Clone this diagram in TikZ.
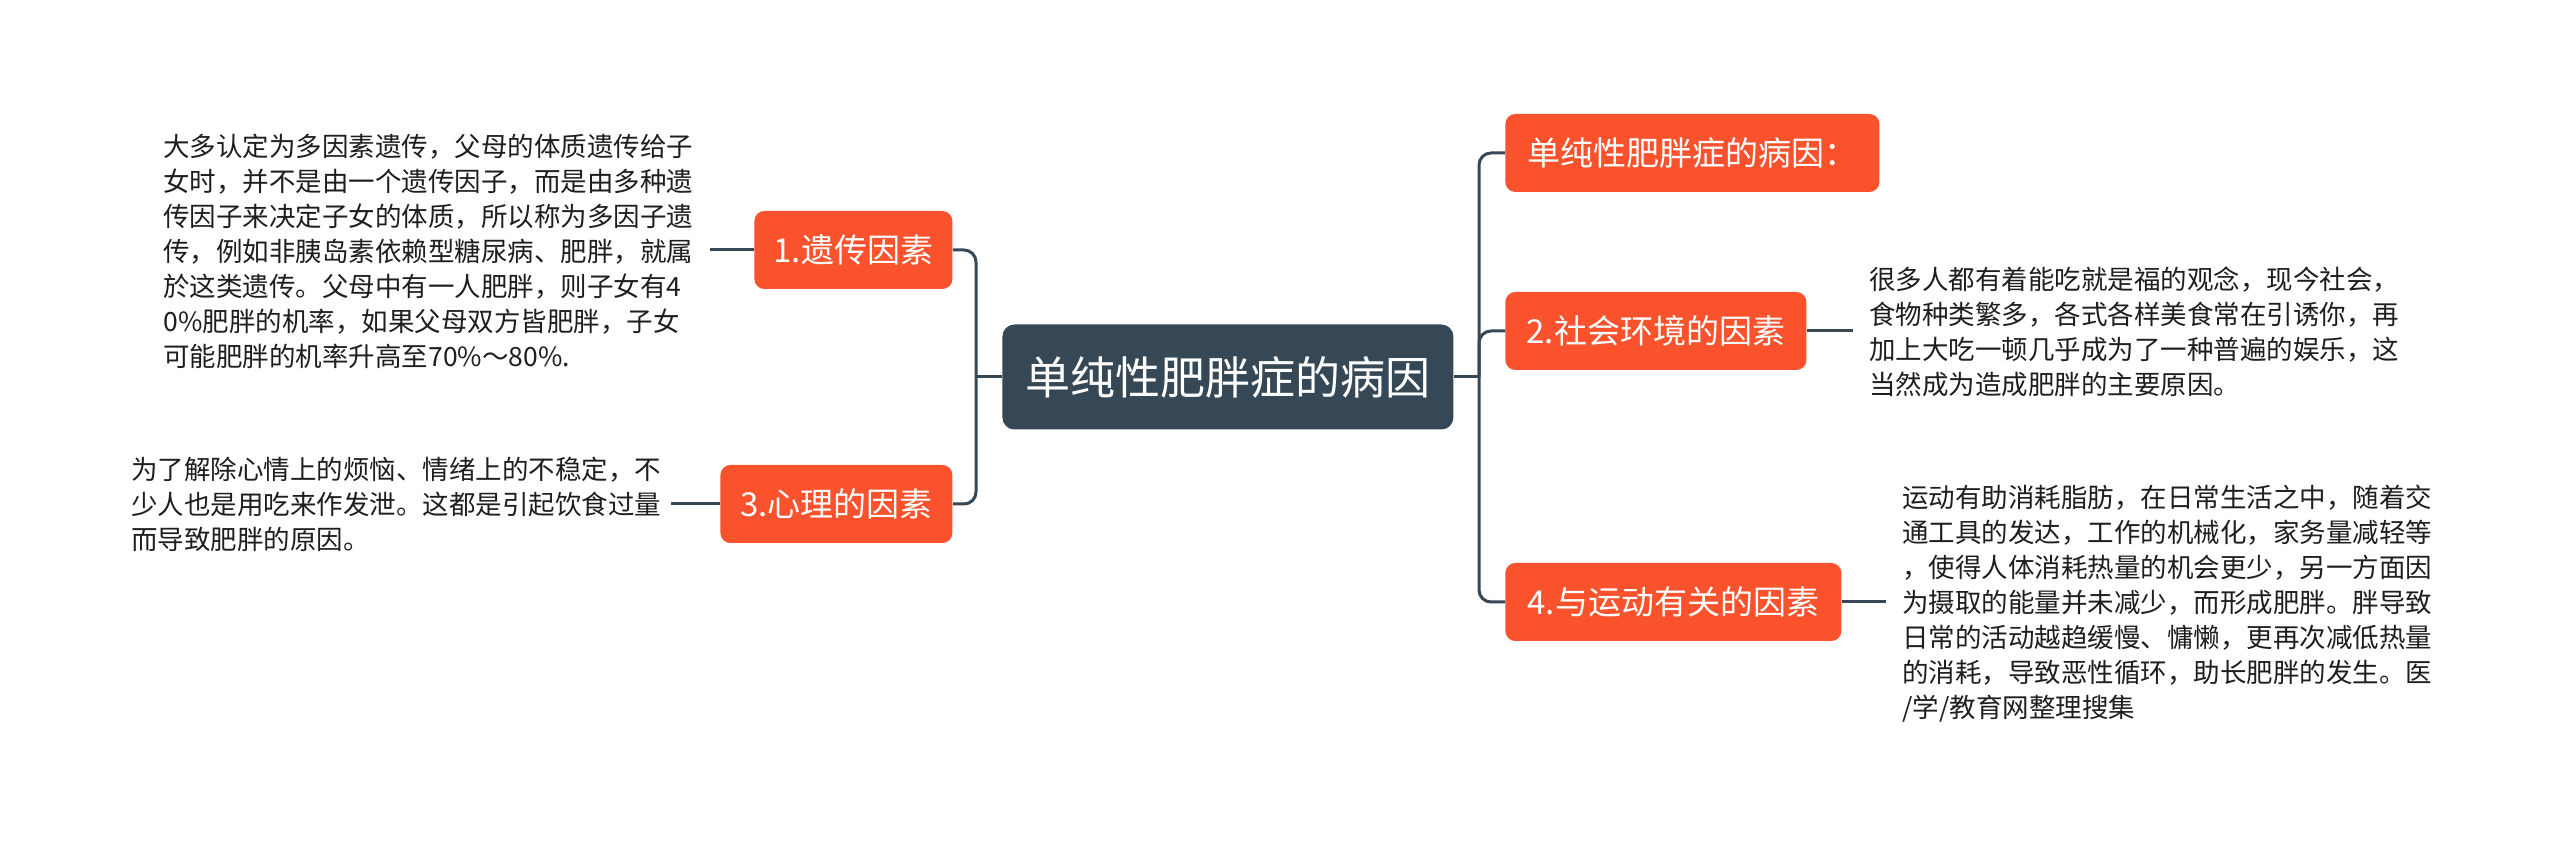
\documentclass[tikz,border=0pt]{standalone}
\usepackage{fontspec}
\setmainfont{Noto Sans CJK SC}
\definecolor{orangebox}{RGB}{250,82,44}
\definecolor{darkbox}{RGB}{54,72,86}
\definecolor{txt}{RGB}{30,30,30}
\tikzset{
  rootbox/.style={fill=darkbox, rounded corners=6pt, text=white, anchor=west, minimum height=52.5pt, inner sep=0pt, font=\fontsize{22.5}{26}\selectfont},
  topicbox/.style={fill=orangebox, rounded corners=5pt, text=white, anchor=west, minimum height=39pt, inner sep=0pt, font=\fontsize{16.5}{20}\selectfont},
  leaftext/.style={anchor=north west, align=left, inner sep=0pt, text=txt, font=\fontsize{13.25}{17.5}\selectfont},
  conn/.style={draw=darkbox, line width=1.5pt, rounded corners=6pt},
}
\begin{document}
\begin{tikzpicture}[x=0.5pt,y=-0.5pt]
\useasboundingbox (0,0) rectangle (2560,849);
\fill[white] (0,0) rectangle (2560,849);
% nodes
\node[rootbox, minimum width=225.5pt] (c) at (1002,377) {单纯性肥胖症的病因};
\node[topicbox, minimum width=187pt] (t0) at (1505,153) {单纯性肥胖症的病因：};
\node[topicbox, minimum width=150.5pt] (t2) at (1505,331) {2.社会环境的因素};
\node[topicbox, minimum width=168pt] (t4) at (1505,602) {4.与运动有关的因素};
\node[topicbox, minimum width=99pt] (t1) at (754,250) {1.遗传因素};
\node[topicbox, minimum width=116pt] (t3) at (720,504) {3.心理的因素};
% leaf texts
\node[leaftext] (l1) at (163,134) {大多认定为多因素遗传，父母的体质遗传给子\\女时，并不是由一个遗传因子，而是由多种遗\\传因子来决定子女的体质，所以称为多因子遗\\传，例如非胰岛素依赖型糖尿病、肥胖，就属\\於这类遗传。父母中有一人肥胖，则子女有4\\0\%肥胖的机率，如果父母双方皆肥胖，子女\\可能肥胖的机率升高至70\%～80\%.};
\node[leaftext] (l3) at (131,457) {为了解除心情上的烦恼、情绪上的不稳定，不\\少人也是用吃来作发泄。这都是引起饮食过量\\而导致肥胖的原因。};
\node[leaftext] (l2) at (1869,266) {很多人都有着能吃就是福的观念，现今社会，\\食物种类繁多，各式各样美食常在引诱你，再\\加上大吃一顿几乎成为了一种普遍的娱乐，这\\当然成为造成肥胖的主要原因。};
\node[leaftext] (l4) at (1902,485) {运动有助消耗脂肪，在日常生活之中，随着交\\通工具的发达，工作的机械化，家务量减轻等\\，使得人体消耗热量的机会更少，另一方面因\\为摄取的能量并未减少，而形成肥胖。胖导致\\日常的活动越趋缓慢、慵懒，更再次减低热量\\的消耗，导致恶性循环，助长肥胖的发生。医\\/学/教育网整理搜集};
% connectors
\coordinate (rt) at (1479,377);
\coordinate (lt) at (976,377);
\draw[conn] (c.east) -- (rt);
\draw[conn] (rt) |- (t0.west);
\draw[conn] (rt) |- (t2.west);
\draw[conn] (rt) |- (t4.west);
\draw[conn] (c.west) -- (lt);
\draw[conn] (lt) |- (t1.east);
\draw[conn] (lt) |- (t3.east);
\coordinate (e2) at (1853,331);
\coordinate (e4) at (1886,602);
\coordinate (e1) at (710,250);
\coordinate (e3) at (671,504);
\draw[conn] (t2.east) -- (e2);
\draw[conn] (t4.east) -- (e4);
\draw[conn] (t1.west) -- (e1);
\draw[conn] (t3.west) -- (e3);
\end{tikzpicture}
\end{document}
